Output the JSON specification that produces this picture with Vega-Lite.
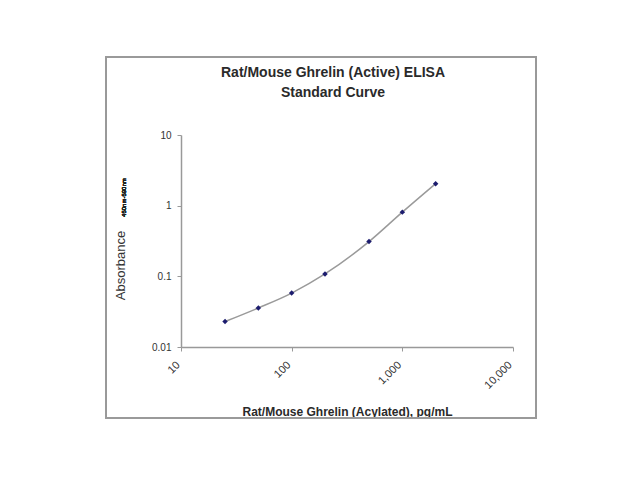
{
  "$schema": "https://vega.github.io/schema/vega-lite/v6.json",
  "autosize": "none",
  "width": 332,
  "height": 212,
  "padding": {"left": 181, "top": 135, "right": 127, "bottom": 133},
  "background": "white",
  "config": {"view": {"stroke": null}, "font": "Liberation Sans"},
  "title": {
    "text": ["Rat/Mouse Ghrelin (Active) ELISA", "Standard Curve"],
    "fontSize": 14,
    "fontWeight": "bold",
    "color": "#2a2a2a",
    "lineHeight": 20,
    "anchor": "middle",
    "dx": -14,
    "offset": -44
  },
  "data": {
    "values": [
      {"conc": 25, "abs": 0.0229},
      {"conc": 50, "abs": 0.0357},
      {"conc": 100, "abs": 0.058},
      {"conc": 200, "abs": 0.108},
      {"conc": 500, "abs": 0.31},
      {"conc": 1000, "abs": 0.81},
      {"conc": 2000, "abs": 2.05}
    ]
  },
  "layer": [
    {
      "mark": {"type": "rect", "fill": null, "stroke": "#9a9a9a", "strokeWidth": 1.5},
      "encoding": {
        "x": {"datum": 2.11, "type": "quantitative", "scale": {"type": "log", "domain": [10, 10000], "nice": false}},
        "x2": {"datum": 16100},
        "y": {"datum": 126.8, "type": "quantitative", "scale": {"type": "log", "domain": [0.01, 10], "nice": false}},
        "y2": {"datum": 0.00099}
      }
    },
    {
      "mark": {"type": "text", "angle": 270, "fontSize": 6, "fontWeight": "normal", "color": "#222", "align": "center", "baseline": "middle", "text": "450nm-590nm"},
      "encoding": {
        "x": {"datum": 3.03, "type": "quantitative"},
        "y": {"datum": 1.3, "type": "quantitative"}
      }
    },
    {
      "mark": {"type": "line", "color": "#9a9a9a", "strokeWidth": 1.5, "interpolate": "monotone"},
      "encoding": {
        "x": {
          "field": "conc", "type": "quantitative",
          "scale": {"type": "log", "domain": [10, 10000], "nice": false},
          "axis": {
            "title": "Rat/Mouse Ghrelin (Acylated), pg/mL",
            "values": [10, 100, 1000, 10000],
            "format": ",",
            "grid": false,
            "domainColor": "#999",
            "domainWidth": 1.5,
            "tickColor": "#999",
            "tickSize": 4,
            "labelAngle": -45,
            "labelAlign": "right",
            "labelBaseline": "middle",
            "labelFontSize": 11,
            "labelColor": "#333",
            "labelPadding": 12,
            "labelOffset": -3,
            "labelFlush": false,
            "labelOverlap": false,
            "titleFontSize": 12,
            "titleFontWeight": "bold",
            "titleColor": "#2a2a2a",
            "titlePadding": 16
          }
        },
        "y": {
          "field": "abs", "type": "quantitative",
          "scale": {"type": "log", "domain": [0.01, 10], "nice": false},
          "axis": {
            "title": "Absorbance",
            "values": [0.01, 0.1, 1, 10],
            "format": "~g",
            "grid": false,
            "domainColor": "#999",
            "domainWidth": 1.5,
            "tickColor": "#999",
            "tickSize": 4,
            "labelFontSize": 10,
            "labelColor": "#333",
            "labelPadding": 6,
            "labelFlush": false,
            "labelOverlap": false,
            "titleFontSize": 13,
            "titleFontWeight": "normal",
            "titleColor": "#333",
            "titleX": -61,
            "titleY": 130,
            "titleAngle": 270,
            "titleAlign": "center",
            "titleBaseline": "middle"
          }
        }
      }
    },
    {
      "mark": {"type": "point", "shape": "diamond", "filled": true, "color": "#1c1c6e", "size": 30, "opacity": 1},
      "encoding": {
        "x": {"field": "conc", "type": "quantitative"},
        "y": {"field": "abs", "type": "quantitative"}
      }
    }
  ]
}
